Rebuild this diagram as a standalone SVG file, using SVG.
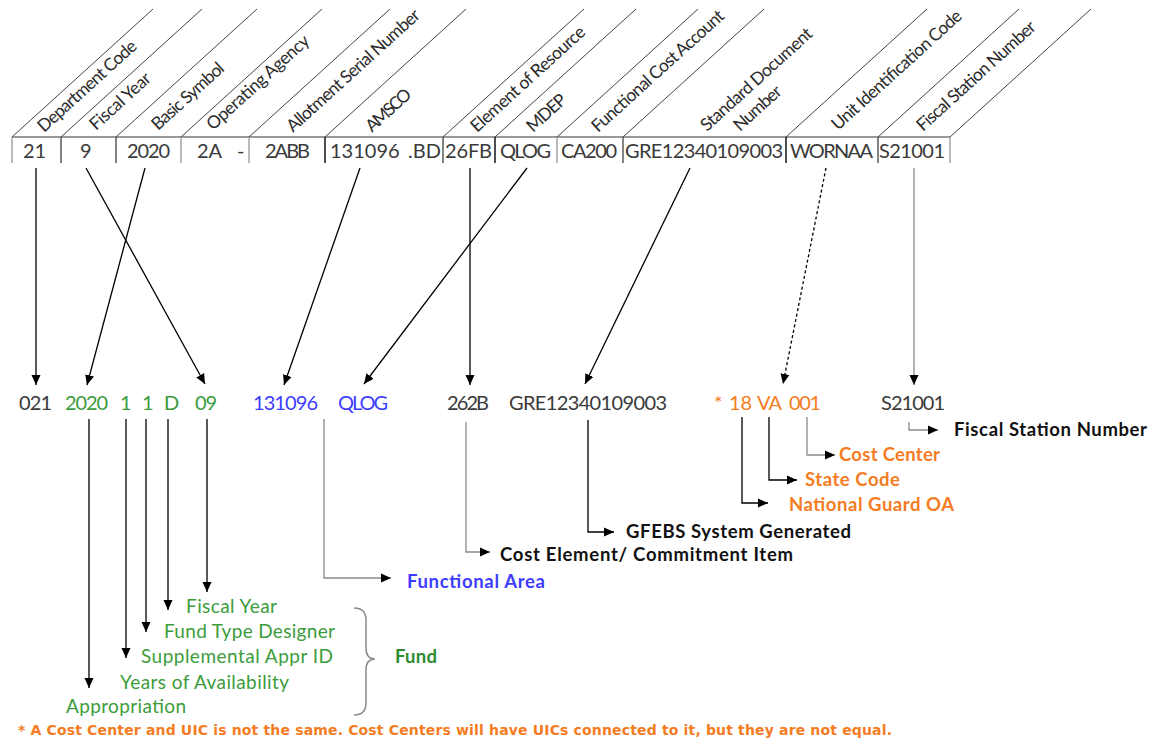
<svg xmlns="http://www.w3.org/2000/svg" width="1164" height="743" viewBox="0 0 1164 743">
<defs>
<marker id="ah" markerUnits="userSpaceOnUse" markerWidth="10" markerHeight="10" refX="10" refY="5" orient="auto" viewBox="0 0 10 10"><path d="M0,0.5 L10,5 L0,9.5 z" fill="#000"/></marker>
</defs>
<style>
text{font-family:Lato,"Open Sans",sans-serif}
.hl{font-size:17.5px;fill:#2b2b2b}
.cv{font-size:20px;fill:#3a3a3a}
.g{fill:#3c9c3c}
.b{fill:#3d3dff}
.o{fill:#f57c22}
.k{fill:#111}
.bd{font-weight:bold;font-size:18.5px}
.lb{font-size:19px}
.fn{font-family:"DejaVu Sans",Verdana,sans-serif;font-weight:bold;font-size:14px;fill:#f57c22}
.diag{stroke:#444;stroke-width:1;fill:none}
.div{stroke-width:1.6;fill:none}
.c{fill:none;stroke:#000;stroke-width:1.3}
.cg{fill:none;stroke:#8a8a8a;stroke-width:1.3}
.arr{marker-end:url(#ah)}
</style>
<rect x="0" y="0" width="1164" height="743" fill="#fff"/>

<g id="header-grid">
<path class="diag" d="M12,137 L153,9 M61,137 L202,9 M116,137 L257,9 M181,137 L322,9 M249,137 L390,9 M325,137 L466,9 M443,137 L584,9 M495,137 L636,9 M557,137 L698,9 M623,137 L764,9 M786,137 L927,9 M878,137 L1019,9 M950,137 L1091,9"/>
<path d="M12,137 H950" stroke="#333" stroke-width="1.2"/>
<path class="div" stroke="#aaa" d="M12,137 V163 M181,137 V163 M249,137 V163 M557,137 V163 M950,137 V163"/>
<path class="div" stroke="#666" d="M61,137 V163 M116,137 V163 M443,137 V163 M623,137 V163 M878,137 V163"/>
<path class="div" stroke="#222" d="M325,137 V163 M495,137 V163 M786,137 V163"/>
</g>

<g id="field-department-code">
<text class="hl" transform="translate(44,133) rotate(-42.2)" textLength="127">Department Code</text>
<text class="cv" x="23" y="158">21</text>
</g>
<g id="field-fiscal-year">
<text class="hl" transform="translate(96,131) rotate(-42.2)" textLength="76">Fiscal Year</text>
<text class="cv" x="80" y="158">9</text>
</g>
<g id="field-basic-symbol">
<text class="hl" transform="translate(158,131) rotate(-42.2)" textLength="91">Basic Symbol</text>
<text class="cv" x="127" y="158" textLength="43">2020</text>
</g>
<g id="field-operating-agency">
<text class="hl" transform="translate(213,131) rotate(-42.2)" textLength="132">Operating Agency</text>
<text class="cv" y="158"><tspan x="197">2A</tspan><tspan x="237">-</tspan></text>
</g>
<g id="field-allotment-serial-number">
<text class="hl" transform="translate(293,133) rotate(-42.2)" textLength="173">Allotment Serial Number</text>
<text class="cv" x="265" y="158" textLength="45">2ABB</text>
</g>
<g id="field-amsco">
<text class="hl" transform="translate(372,133) rotate(-42.2)" textLength="55">AMSCO</text>
<text class="cv" y="158"><tspan x="330">131096</tspan><tspan x="408">.BD</tspan></text>
</g>
<g id="field-element-of-resource">
<text class="hl" transform="translate(477,133) rotate(-42.2)" textLength="148">Element of Resource</text>
<text class="cv" x="445" y="158" textLength="47">26FB</text>
</g>
<g id="field-mdep">
<text class="hl" transform="translate(533,133) rotate(-42.2)" textLength="47">MDEP</text>
<text class="cv" x="500" y="158" textLength="51">QLOG</text>
</g>
<g id="field-functional-cost-account">
<text class="hl" transform="translate(598,133) rotate(-42.2)" textLength="172">Functional Cost Account</text>
<text class="cv" x="561" y="158" textLength="56">CA200</text>
</g>
<g id="field-standard-document-number">
<text class="hl" transform="translate(707,132) rotate(-42.2)" textLength="144">Standard Document</text>
<text class="hl" transform="translate(740,132) rotate(-42.2)" textLength="58">Number</text>
<text class="cv" x="625" y="158" textLength="158">GRE12340109003</text>
</g>
<g id="field-unit-identification-code">
<text class="hl" transform="translate(838,131) rotate(-42.2)" textLength="169">Unit Identification Code</text>
<text class="cv" x="790" y="158" textLength="83">WORNAA</text>
</g>
<g id="field-fiscal-station-number">
<text class="hl" transform="translate(923,132) rotate(-42.2)" textLength="154">Fiscal Station Number</text>
<text class="cv" x="879" y="158" textLength="66">S21001</text>
</g>

<g id="connectors">
<path class="c arr" d="M36,168 V385"/>
<path class="c arr" d="M86,168 L205,384"/>
<path class="c arr" d="M145,168 L87,385"/>
<path class="c arr" d="M360,168 L284,385"/>
<path class="c arr" d="M527,168 L364,384"/>
<path class="c arr" d="M470,168 V385"/>
<path class="c arr" d="M690,168 L585,384"/>
<path class="c arr" d="M826,168 L783,384" stroke-dasharray="3,2.5"/>
<path class="cg arr" d="M914,168 V385" stroke="#666"/>
<path class="c arr" d="M89,419 V688"/>
<path class="c arr" d="M126,419 V658"/>
<path class="c arr" d="M146,419 V632"/>
<path class="c arr" d="M168,419 V610"/>
<path class="c arr" d="M207,419 V592"/>
<path class="cg arr" d="M324,419 V578 H391" stroke="#6a6a6a"/>
<path class="cg arr" d="M466,422 V552 H490" stroke="#9a9a9a"/>
<path class="c arr" d="M588,420 V532 H614"/>
<path class="c arr" d="M742,417 V503 H768"/>
<path class="c arr" d="M769,417 V480 H797"/>
<path class="cg arr" d="M807,417 V455 H835" stroke="#888"/>
<path class="cg arr" d="M909,422 V430 H938" stroke="#888"/>
<path d="M354,608 Q366,608 366,620 L366,648 Q366,659 375,659 Q366,659 366,670 L366,703 Q366,715 354,715" fill="none" stroke="#8a8a8a" stroke-width="1.5"/>
</g>

<g id="value-021"><text class="cv" x="19" y="410" textLength="33">021</text></g>
<g id="value-fund">
<text class="cv g" x="65" y="410" textLength="43">2020</text>
<text class="cv g" x="120" y="410">1</text>
<text class="cv g" x="142" y="410">1</text>
<text class="cv g" x="164" y="410">D</text>
<text class="cv g" x="195" y="410" textLength="22">09</text>
</g>
<g id="value-functional-area">
<text class="cv b" x="253" y="410" textLength="65">131096</text>
<text class="cv b" x="338" y="410" textLength="50">QLOG</text>
</g>
<g id="value-262b"><text class="cv" x="447" y="410" textLength="42">262B</text></g>
<g id="value-gre"><text class="cv" x="509" y="410" textLength="158">GRE12340109003</text></g>
<g id="value-cost-center">
<text class="cv o" x="714" y="410">*</text>
<text class="cv o" x="729" y="410" textLength="23">18</text>
<text class="cv o" x="757" y="410" textLength="25">VA</text>
<text class="cv o" x="789" y="410" textLength="32">001</text>
</g>
<g id="value-s21001"><text class="cv" x="881" y="410" textLength="64">S21001</text></g>

<g id="label-fiscal-station-number"><text class="bd k" x="954" y="436" textLength="193">Fiscal Station Number</text></g>
<g id="label-cost-center"><text class="bd o" x="839" y="461" textLength="101">Cost Center</text></g>
<g id="label-state-code"><text class="bd o" x="805" y="486" textLength="95">State Code</text></g>
<g id="label-national-guard-oa"><text class="bd o" x="789" y="511" textLength="165">National Guard OA</text></g>
<g id="label-gfebs"><text class="bd k" x="626" y="538" textLength="225">GFEBS System Generated</text></g>
<g id="label-cost-element"><text class="bd k" x="500" y="561" textLength="293">Cost Element/ Commitment Item</text></g>
<g id="label-functional-area"><text class="bd b" x="407" y="588" textLength="138">Functional Area</text></g>
<g id="label-fiscal-year"><text class="lb g" x="186" y="613" textLength="91">Fiscal Year</text></g>
<g id="label-fund-type"><text class="lb g" x="164" y="638" textLength="171">Fund Type Designer</text></g>
<g id="label-supplemental"><text class="lb g" x="141" y="663" textLength="192">Supplemental Appr ID</text></g>
<g id="label-years"><text class="lb g" x="120" y="689" textLength="169">Years of Availability</text></g>
<g id="label-appropriation"><text class="lb g" x="66" y="713" textLength="120">Appropriation</text></g>
<g id="label-fund"><text class="bd" x="395" y="663" textLength="42" fill="#2e8b2e">Fund</text></g>
<g id="footnote"><text class="fn" x="18" y="735" textLength="874">* A Cost Center and UIC is not the same. Cost Centers will have UICs connected to it, but they are not equal.</text></g>
</svg>
